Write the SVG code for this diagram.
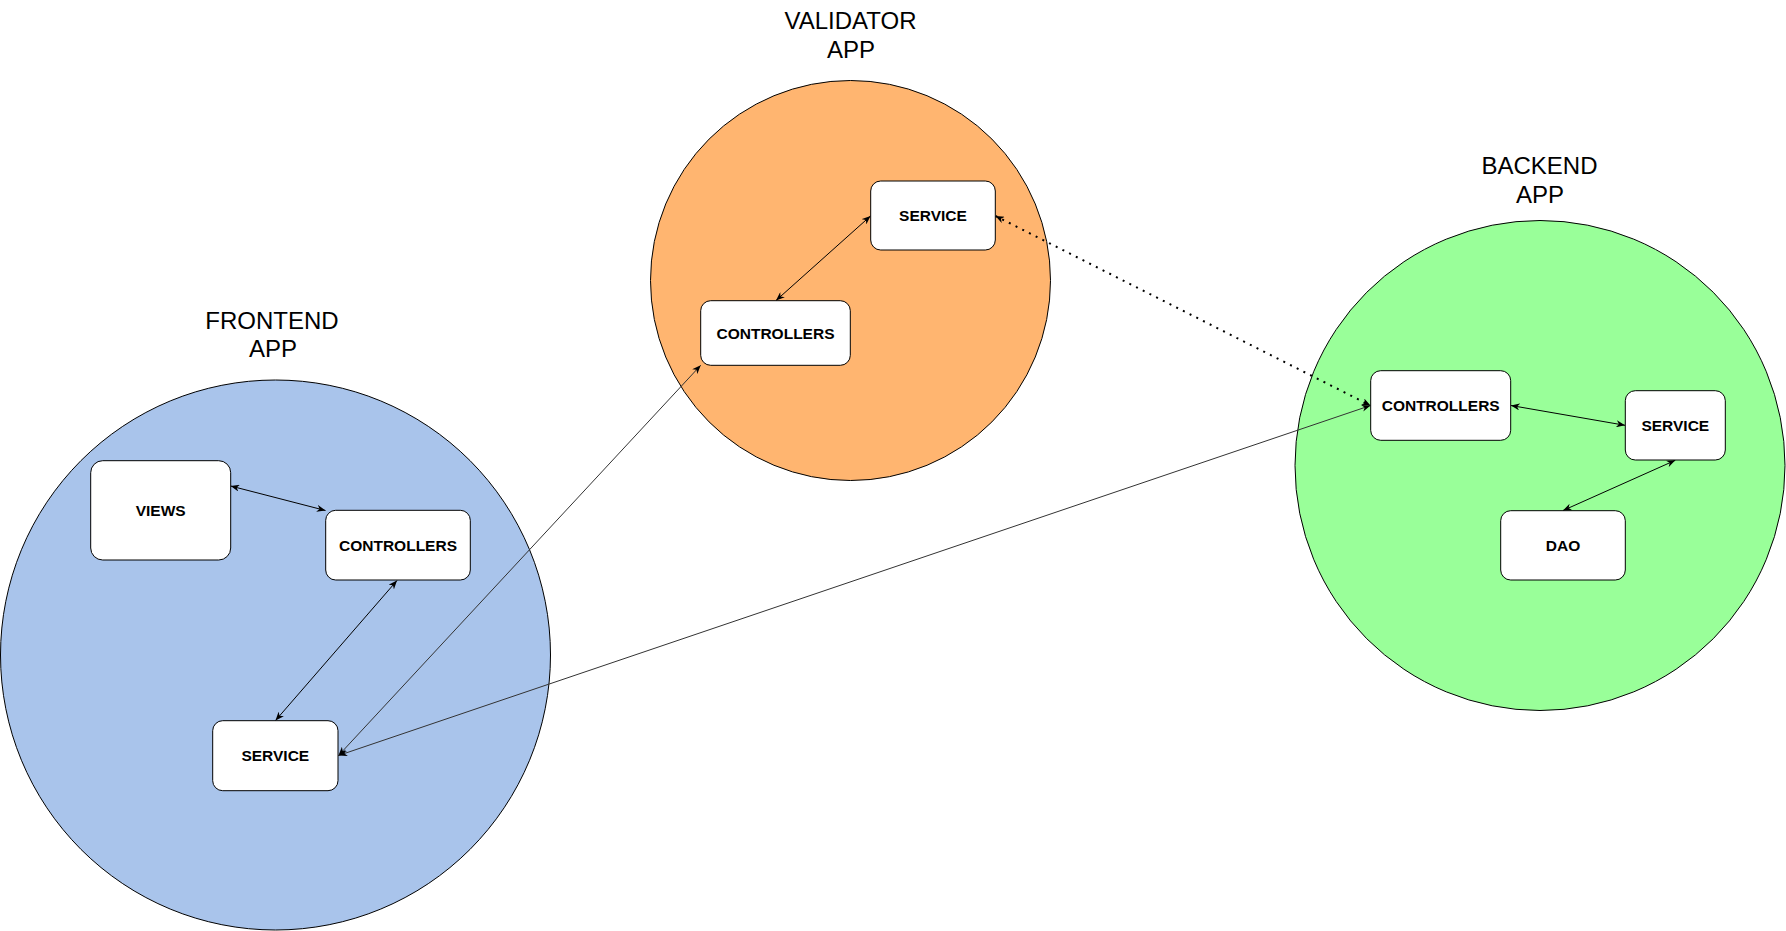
<svg xmlns="http://www.w3.org/2000/svg" width="1786" height="931" viewBox="0 0 1786 931">
<style>
.app{stroke:#000;stroke-width:1}
.title{font-family:"Liberation Sans",Arial,sans-serif;font-size:24px;fill:#000;text-anchor:middle}
.box{fill:#fff;stroke:#000;stroke-width:1}
.lbl{font-family:"Liberation Sans",Arial,sans-serif;font-size:15.5px;font-weight:bold;fill:#000;text-anchor:middle}
.edge{fill:none;stroke:#000;stroke-width:1;marker-start:url(#arr);marker-end:url(#arr)}
.far{stroke:#333}
.dot{fill:none;stroke:#000;stroke-width:2;stroke-dasharray:2 5.5;marker-start:url(#arr);marker-end:url(#arr)}
</style>
<defs>
<marker id="arr" viewBox="0 0 10 8" refX="10" refY="4" markerWidth="9" markerHeight="7" markerUnits="userSpaceOnUse" orient="auto-start-reverse">
<path d="M0,0 L10,4 L0,8 L3,4 Z" fill="#000"/>
</marker>
</defs>
<rect width="1786" height="931" fill="#fff"/>

<g id="frontend-app">
<circle class="app" cx="275.5" cy="655" r="275" fill="#A9C4EB"/>
<text class="title" x="272" y="328.5">FRONTEND</text>
<text class="title" x="273" y="357">APP</text>
</g>
<g id="validator-app">
<circle class="app" cx="850.5" cy="280.5" r="200" fill="#FFB570"/>
<text class="title" x="850.5" y="29.3">VALIDATOR</text>
<text class="title" x="851" y="57.5">APP</text>
</g>
<g id="backend-app">
<circle class="app" cx="1540" cy="465.5" r="245" fill="#99FF99"/>
<text class="title" x="1539.5" y="173.5">BACKEND</text>
<text class="title" x="1540" y="202.5">APP</text>
</g>

<g id="connectors">
<line class="edge" x1="230.7" y1="486" x2="325.5" y2="510.5"/>
<line class="edge" x1="397" y1="580.5" x2="275.5" y2="720.5"/>
<line class="edge far" x1="338.5" y1="755.5" x2="700.7" y2="365.3"/>
<line class="edge far" x1="338.5" y1="755.5" x2="1370.5" y2="405.5"/>
<line class="edge" x1="776" y1="300.5" x2="870.5" y2="216"/>
<line class="dot" x1="995.5" y1="216" x2="1370.5" y2="405.5"/>
<line class="edge" x1="1511" y1="405.5" x2="1625" y2="425.3"/>
<line class="edge" x1="1675.3" y1="460.3" x2="1563" y2="510.5"/>
</g>

<g id="f-views">
<rect class="box" x="90.7" y="460.7" width="140" height="99.3" rx="12"/>
<text class="lbl" x="160.7" y="516">VIEWS</text>
</g>
<g id="f-controllers">
<rect class="box" x="325.7" y="510.3" width="144.6" height="69.7" rx="10"/>
<text class="lbl" x="398" y="550.7">CONTROLLERS</text>
</g>
<g id="f-service">
<rect class="box" x="212.7" y="720.7" width="125.3" height="70" rx="10"/>
<text class="lbl" x="275.3" y="761.3">SERVICE</text>
</g>
<g id="v-service">
<rect class="box" x="870.7" y="181" width="124.6" height="69" rx="10"/>
<text class="lbl" x="933" y="221">SERVICE</text>
</g>
<g id="v-controllers">
<rect class="box" x="700.7" y="300.7" width="149.6" height="64.6" rx="10"/>
<text class="lbl" x="775.5" y="338.5">CONTROLLERS</text>
</g>
<g id="b-controllers">
<rect class="box" x="1370.7" y="370.7" width="140" height="69.6" rx="10"/>
<text class="lbl" x="1440.7" y="411">CONTROLLERS</text>
</g>
<g id="b-service">
<rect class="box" x="1625.3" y="390.7" width="100" height="69.3" rx="10"/>
<text class="lbl" x="1675.3" y="430.8">SERVICE</text>
</g>
<g id="b-dao">
<rect class="box" x="1500.7" y="510.7" width="124.6" height="69.3" rx="10"/>
<text class="lbl" x="1563" y="550.8">DAO</text>
</g>
</svg>
